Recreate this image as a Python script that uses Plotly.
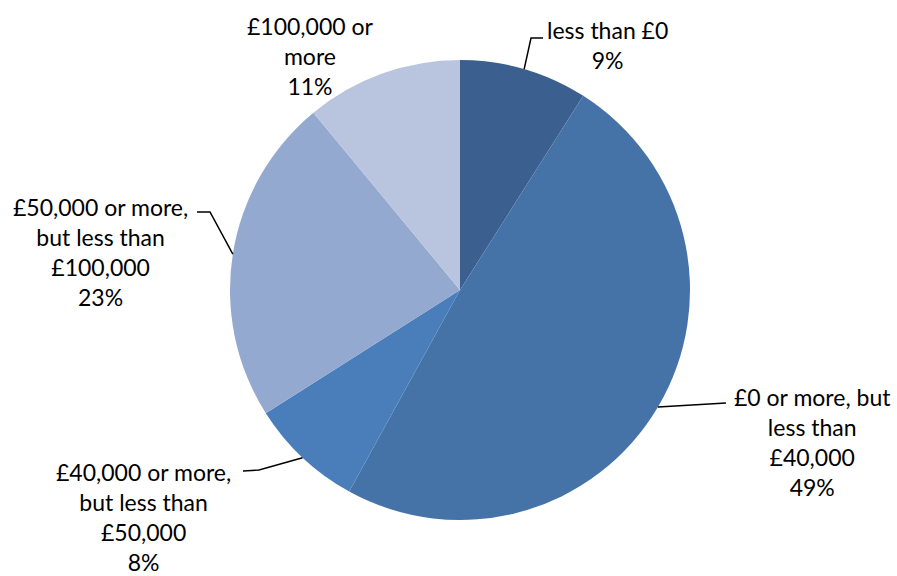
import math
import plotly.graph_objects as go

# Distribution of values, clockwise from 12 o'clock
categories = [
    "less than £0",
    "£0 or more, but<br>less than<br>£40,000",
    "£40,000 or more,<br>but less than<br>£50,000",
    "£50,000 or more,<br>but less than<br>£100,000",
    "£100,000 or<br>more",
]
shares = [9, 49, 8, 23, 11]
colors = ["#3B5F8E", "#4573A7", "#4A7EBB", "#94A9D0", "#B9C5DE"]

W, H = 897, 576
CX, CY, R = 460, 290, 230  # pie centre and radius in pixels
FONT = "Lato, Open Sans, sans-serif"


def px_to_paper(x, y):
    return x / W, 1 - y / H


fig = go.Figure(
    go.Pie(
        labels=categories,
        values=shares,
        sort=False,
        direction="clockwise",
        rotation=0,
        marker=dict(colors=colors, line=dict(width=0)),
        textinfo="none",
        hoverinfo="label+percent",
        showlegend=False,
        domain=dict(
            x=[(CX - R) / W, (CX + R) / W],
            y=[1 - (CY + R) / H, 1 - (CY - R) / H],
        ),
    )
)

# Point on the rim at the middle of each slice
total = sum(shares)
mid_points = []
acc = 0
for v in shares:
    ang = (acc + v / 2) / total * 2 * math.pi
    mid_points.append((CX + R * math.sin(ang), CY - R * math.cos(ang)))
    acc += v

# Label text centres (pixels) and leader-line elbows
label_pos = [(607, 45), (812, 442), (143, 517), (100, 252), (310, 56)]
elbows = [
    [(531, 38), (543, 38)],
    [(726, 403)],
    [(259, 470), (243, 471)],
    [(210, 212), (197, 212)],
    None,
]

for i, (cat, v) in enumerate(zip(categories, shares)):
    lx, ly = label_pos[i]
    px, py = px_to_paper(lx, ly)
    fig.add_annotation(
        x=px, y=py, xref="paper", yref="paper",
        text=f"{cat}<br>{v}%",
        showarrow=False, xanchor="center", yanchor="middle",
        align="center",
        font=dict(family=FONT, size=23, color="black"),
    )
    if elbows[i]:
        pts = [mid_points[i]] + elbows[i]
        path = "M " + " L ".join(
            f"{px_to_paper(x, y)[0]},{px_to_paper(x, y)[1]}" for x, y in pts
        )
        fig.add_shape(
            type="path", path=path, xref="paper", yref="paper",
            line=dict(color="black", width=1.5),
        )

fig.update_layout(
    width=W, height=H,
    margin=dict(l=0, r=0, t=0, b=0),
    paper_bgcolor="white",
    plot_bgcolor="white",
)

fig.write_html("out.html")
